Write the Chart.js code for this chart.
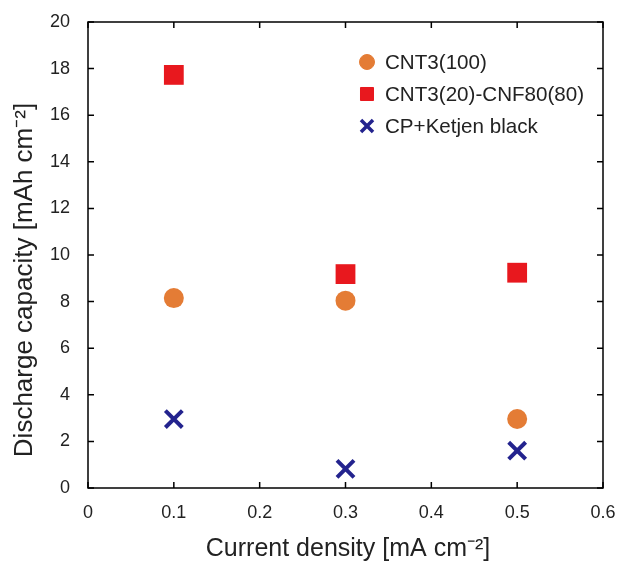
<!DOCTYPE html>
<html>
<head>
<meta charset="utf-8">
<script src="https://cdn.jsdelivr.net/npm/chart.js@4.4.0/dist/chart.umd.min.js"></script>
<style>
  html, body { margin: 0; padding: 0; background: #fff; }
  #wrap { width: 619px; height: 563px; }
</style>
</head>
<body>
<div id="wrap"><canvas id="capChart" width="619" height="563"></canvas></div>
<script>
// data
const currentDensity = [0.1, 0.3, 0.5];
const cnt3 = [8.15, 8.04, 2.96];
const cnt3Cnf80 = [17.73, 9.18, 9.24];
const cpKetjen = [2.96, 0.82, 1.6];
const xTicks = [0, 0.1, 0.2, 0.3, 0.4, 0.5, 0.6];
const yTicks = [0, 2, 4, 6, 8, 10, 12, 14, 16, 18, 20];
const xTitle = 'Current density [mA cm\u207B\u00B2]';
const yTitle = 'Discharge capacity [mAh cm\u207B\u00B2]';

const FONT = '"Liberation Sans", Arial, sans-serif';

function pts(ys) {
  return currentDensity.map((x, i) => ({ x: x, y: ys[i] }));
}

// frame + inward ticks on all four sides, axis titles
const framePlugin = {
  id: 'frame',
  afterDraw(chart) {
    const ctx = chart.ctx;
    const a = chart.chartArea;
    const xs = chart.scales.x, ys = chart.scales.y;
    ctx.save();
    ctx.strokeStyle = '#000';
    ctx.lineWidth = 1.5;
    ctx.strokeRect(a.left, a.top, a.right - a.left, a.bottom - a.top);
    ctx.beginPath();
    xTicks.forEach(v => {
      const px = xs.getPixelForValue(v);
      ctx.moveTo(px, a.bottom); ctx.lineTo(px, a.bottom - 6);
      ctx.moveTo(px, a.top); ctx.lineTo(px, a.top + 6);
    });
    yTicks.forEach(v => {
      const py = ys.getPixelForValue(v);
      ctx.moveTo(a.left, py); ctx.lineTo(a.left + 6, py);
      ctx.moveTo(a.right, py); ctx.lineTo(a.right - 6, py);
    });
    ctx.stroke();

    ctx.fillStyle = '#222';
    ctx.textAlign = 'center';
    ctx.textBaseline = 'middle';
    ctx.font = '25px ' + FONT;
    ctx.fillText(xTitle, 348, 549);
    ctx.translate(25, 280);
    ctx.rotate(-Math.PI / 2);
    ctx.font = '26px ' + FONT;
    ctx.fillText(yTitle, 0, 0);
    ctx.restore();
  }
};

// legend inside the plot, top right
const legendPlugin = {
  id: 'insideLegend',
  afterDraw(chart) {
    const ctx = chart.ctx;
    const x0 = 367, y0 = 62, step = 32;
    ctx.save();
    ctx.font = '20.6px ' + FONT;
    ctx.textBaseline = 'middle';
    chart.data.datasets.forEach((ds, i) => {
      const y = y0 + i * step;
      ctx.fillStyle = ds.backgroundColor;
      ctx.strokeStyle = ds.borderColor;
      const cross = ds.pointStyle === 'crossRot';
      ctx.lineWidth = cross ? 3.5 : 1;
      const r = ds.pointStyle === 'circle' ? 7.5 : ds.pointStyle === 'rect' ? 9.2 : 8.5;
      Chart.helpers.drawPoint(ctx, { pointStyle: ds.pointStyle, radius: r, rotation: 0, borderWidth: ctx.lineWidth }, x0, y);
      ctx.fillStyle = '#222';
      ctx.fillText(ds.label, x0 + 18, y + 1);
    });
    ctx.restore();
  }
};

const ctx = document.getElementById('capChart').getContext('2d');
const capChart = new Chart(ctx, {
  type: 'scatter',
  data: {
    datasets: [
      {
        label: 'CNT3(100)',
        data: pts(cnt3),
        pointStyle: 'circle',
        pointRadius: 10,
        backgroundColor: '#E47C35',
        borderColor: '#E47C35',
        borderWidth: 0
      },
      {
        label: 'CNT3(20)-CNF80(80)',
        data: pts(cnt3Cnf80),
        pointStyle: 'rect',
        pointRadius: 14,
        backgroundColor: '#E8181E',
        borderColor: '#E8181E',
        borderWidth: 0
      },
      {
        label: 'CP+Ketjen black',
        data: pts(cpKetjen),
        pointStyle: 'crossRot',
        pointRadius: 12,
        backgroundColor: '#23238E',
        borderColor: '#23238E',
        pointBorderWidth: 4
      }
    ]
  },
  plugins: [framePlugin, legendPlugin],
  options: {
    responsive: false,
    animation: false,
    layout: { padding: { left: 0, right: 15, top: 22, bottom: 0 } },
    plugins: {
      legend: { display: false },
      tooltip: { enabled: false }
    },
    scales: {
      x: {
        type: 'linear',
        min: 0,
        max: 0.6,
        afterBuildTicks: axis => { axis.ticks = xTicks.map(v => ({ value: v })); },
        afterFit: axis => { axis.height = 75; axis.paddingLeft = 0; axis.paddingRight = 0; },
        grid: { display: false, drawTicks: false },
        border: { display: false },
        ticks: {
          padding: 14,
          color: '#222',
          font: { family: FONT, size: 18 },
          callback: v => String(v)
        }
      },
      y: {
        type: 'linear',
        min: 0,
        max: 20,
        afterBuildTicks: axis => { axis.ticks = yTicks.map(v => ({ value: v })); },
        afterFit: axis => { axis.width = 88; axis.paddingTop = 0; axis.paddingBottom = 0; },
        grid: { display: false, drawTicks: false },
        border: { display: false },
        ticks: {
          padding: 18,
          color: '#222',
          font: { family: FONT, size: 18 }
        }
      }
    }
  }
});
</script>
</body>
</html>
